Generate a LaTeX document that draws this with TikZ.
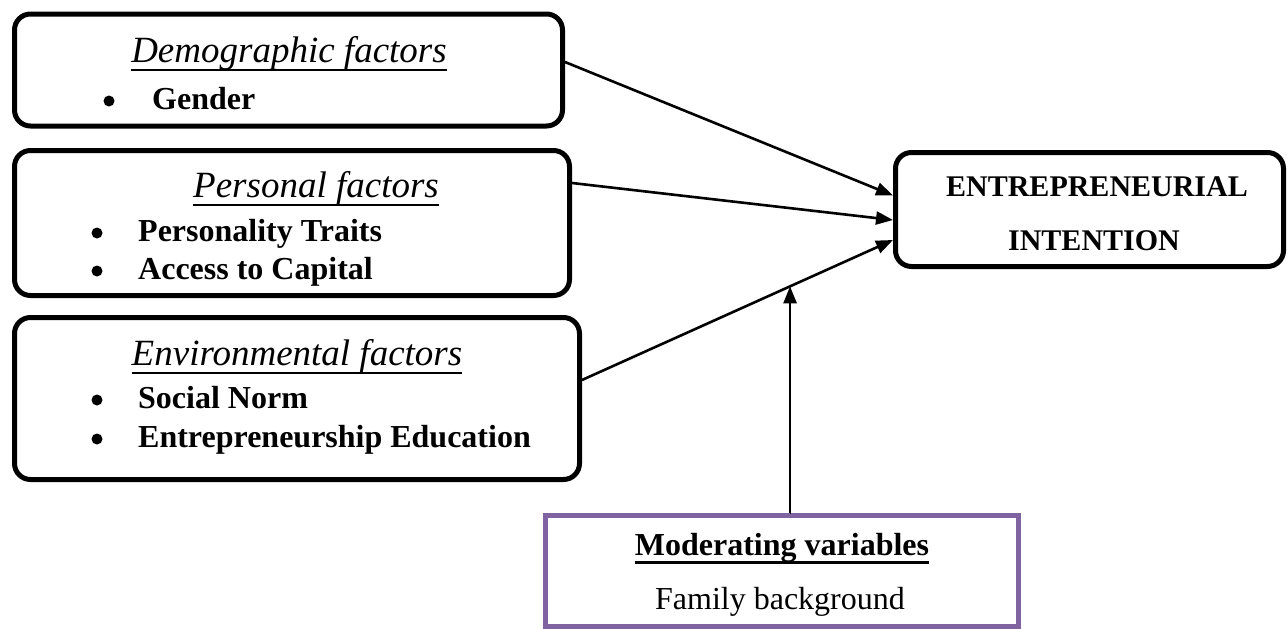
\documentclass[tikz,border=0pt]{standalone}
\usepackage{fontspec}
\setmainfont{Liberation Serif}
\usetikzlibrary{arrows.meta,calc}
\definecolor{modpurple}{HTML}{8064A2}
\begin{document}
\begin{tikzpicture}[x=1pt,y=-1pt,
 factorbox/.style={draw, line width=5pt, rounded corners=16pt, inner sep=0pt},
 modbox/.style={draw=modpurple, line width=5pt, inner sep=0pt},
 arr/.style={line width=2.6pt, -{Triangle[length=17pt,width=13pt]}},
 head/.style={font=\fontsize{37}{44}\selectfont\itshape, anchor=base, inner sep=0pt},
 itemtext/.style={font=\fontsize{32}{38}\selectfont\bfseries, anchor=base west, inner sep=0pt},
 bul/.style={circle, fill, minimum size=11pt, inner sep=0pt},
 etext/.style={font=\fontsize{30}{36}\selectfont\bfseries, anchor=base, inner sep=0pt},
 ul/.style={line width=2.2pt}]
\useasboundingbox (0,0) rectangle (1288,629);
\fill[white] (0,0) rectangle (1288,629);

% boxes
\node[factorbox, minimum width=548pt, minimum height=112pt] (b1) at (288.5,70) {};
\node[factorbox, minimum width=555pt, minimum height=145pt] (b2) at (292,223) {};
\node[factorbox, minimum width=565pt, minimum height=162pt] (b3) at (297,398.5) {};
\node[factorbox, minimum width=388pt, minimum height=114pt] (eb) at (1089.5,209.5) {};
\node[modbox, minimum width=473pt, minimum height=111pt] (mod) at (782,571) {};

% box 1
\node[head] (h1) at (289,62) {Demographic factors};
\draw[ul] ([yshift=-8pt]h1.base west) -- ([yshift=-8pt]h1.base east);
\node[bul] (bu1) at (109,101) {};
\node[itemtext] (i1) at (152,109) {Gender};

% box 2
\node[head] (h2) at (316,197) {Personal factors};
\draw[ul] ([yshift=-8pt]h2.base west) -- ([yshift=-8pt]h2.base east);
\node[bul] (bu2) at (97,233) {};
\node[itemtext] (i2) at (138,241) {Personality Traits};
\node[bul] (bu3) at (97,271) {};
\node[itemtext] (i3) at (138,279) {Access to Capital};

% box 3
\node[head] (h3) at (297,365) {Environmental factors};
\draw[ul] ([yshift=-8pt]h3.base west) -- ([yshift=-8pt]h3.base east);
\node[bul] (bu4) at (97,400) {};
\node[itemtext] (i4) at (138,408) {Social Norm};
\node[bul] (bu5) at (97,439) {};
\node[itemtext] (i5) at (138,447) {Entrepreneurship Education};

% entrepreneurial intention
\node[etext] (e1) at (1097,196) {ENTREPRENEURIAL};
\node[etext] (e2) at (1094,250) {INTENTION};

% moderating
\node[font=\fontsize{32}{38}\selectfont\bfseries, anchor=base, inner sep=0pt] (m1) at (782,555) {Moderating variables};
\draw[line width=3pt] ([yshift=-7pt]m1.base west) -- ([yshift=-7pt]m1.base east);
\node[font=\fontsize{32}{38}\selectfont, anchor=base, inner sep=0pt] (m2) at (780,609) {Family background};

% connectors
\coordinate (s3) at ([yshift=18.5pt]b3.east);
\coordinate (t3) at ([yshift=-30.5pt]eb.west);
\draw[arr] ([yshift=8pt]b1.east) -- ([yshift=14pt]eb.west);
\draw[arr] ([yshift=40pt]b2.east) -- ([yshift=-10.5pt]eb.west);
\draw[arr] (s3) -- (t3);
\coordinate (mp) at ($(s3)!0.669!(t3)$);
\draw[arr] ([xshift=8pt]mod.north) -- (mod.north -| mp) -- (mp);
\end{tikzpicture}
\end{document}
